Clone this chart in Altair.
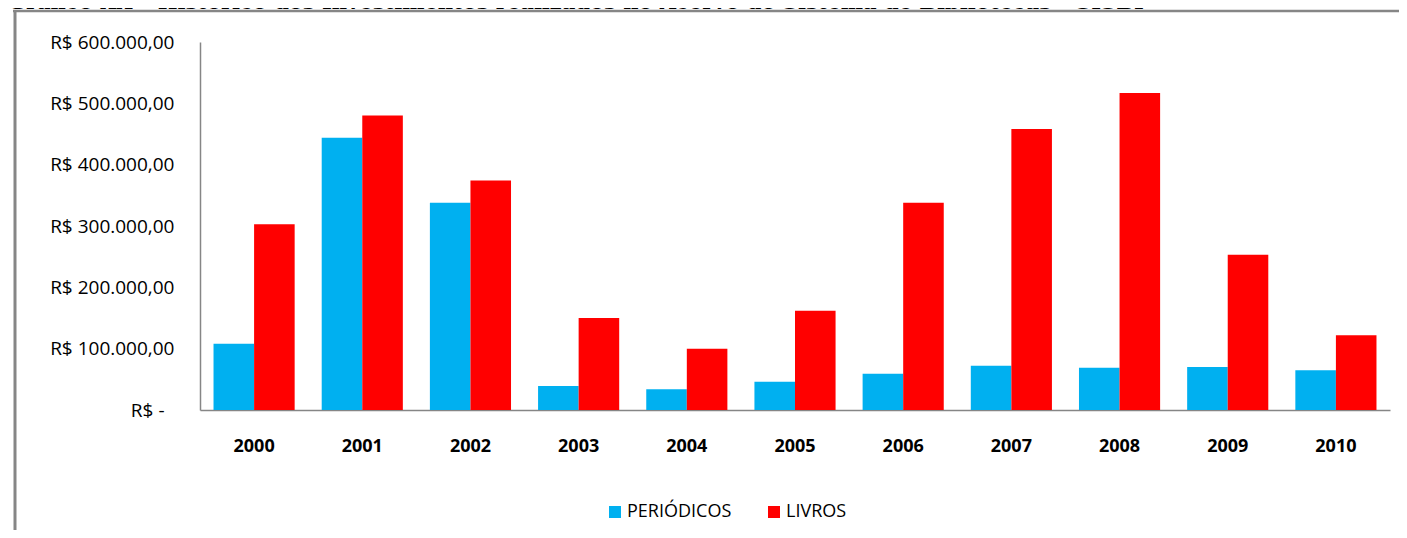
import altair as alt
import pandas as pd

anos = ["2000", "2001", "2002", "2003", "2004", "2005", "2006", "2007", "2008", "2009", "2010"]
periodicos = [108000, 444000, 338000, 39000, 34000, 46000, 59000, 72000, 69000, 70000, 65000]
livros = [303000, 480000, 374000, 150000, 100000, 162000, 338000, 458000, 517000, 253000, 122000]
series = ["PERIÓDICOS", "LIVROS"]
cores = ["#00B0F0", "#FF0000"]
y_ticks = [0, 100000, 200000, 300000, 400000, 500000, 600000]
titulo = "Gráfico XX – Histórico dos Investimentos realizados no Acervo do Sistema de Bibliotecas – SISBI"

rows = []
for i, a in enumerate(anos):
    rows.append({"ano": a, "serie": series[0], "valor": periodicos[i]})
    rows.append({"ano": a, "serie": series[1], "valor": livros[i]})
df = pd.DataFrame(rows)

FONT = "Open Sans"
GRAY = "#868686"

bars = alt.Chart(df).mark_bar().encode(
    x=alt.X("ano:N", sort=anos,
            scale=alt.Scale(paddingInner=0.25, paddingOuter=0.125),
            axis=alt.Axis(title=None, labelAngle=0, ticks=False, domainColor=GRAY,
                          domainWidth=1.5, labelFont=FONT, labelFontSize=18,
                          labelFontWeight="bold", labelColor="black", labelPadding=27)),
    xOffset=alt.XOffset("serie:N", sort=series,
                        scale=alt.Scale(paddingInner=0, paddingOuter=0)),
    y=alt.Y("valor:Q", scale=alt.Scale(domain=[0, 600000]),
            axis=alt.Axis(title=None, values=y_ticks, ticks=False, grid=False,
                          domainColor=GRAY, domainWidth=1.5, labelFont=FONT,
                          labelFontSize=19, labelColor="black",
                          labelPadding={"condition": {"test": "datum.value == 0", "value": 36}, "value": 26},
                          labelExpr="datum.value == 0 ? 'R$ -' : 'R$ ' + format(datum.value/1000, 'd') + '.000,00'")),
    color=alt.Color("serie:N", sort=series,
                    scale=alt.Scale(domain=series, range=cores),
                    legend=alt.Legend(title=None, orient="none", legendX=406, legendY=461,
                                      direction="horizontal", symbolType="square",
                                      symbolSize=144, symbolStrokeWidth=0,
                                      labelFont=FONT, labelFontSize=18, labelColor="black",
                                      labelOffset=3, columnPadding=33, padding=0)),
)

one = pd.DataFrame({"k": [0]})
frame_left = alt.Chart(one).mark_rule(color=GRAY, strokeWidth=3).encode(
    x=alt.value(-185), y=alt.value(-32), y2=alt.value(500))
frame_top = alt.Chart(one).mark_rule(color=GRAY, strokeWidth=2.5).encode(
    x=alt.value(-187), x2=alt.value(1200), y=alt.value(-31))
title_txt = alt.Chart(one).mark_text(
    text=titulo, font="DejaVu Serif", fontSize=21, fontWeight="bold",
    align="left", baseline="alphabetic", color="black").encode(
    x=alt.value(-192), y=alt.value(-33))

chart = alt.layer(bars, frame_left, frame_top, title_txt).properties(
    width=1190, height=368,
    background="white",
    autosize=alt.AutoSizeParams(type="none"),
    padding={"left": 192, "top": 34, "right": 9, "bottom": 120},
).configure_view(strokeWidth=0, stroke="transparent")

chart.save("out.html", embed_options={"renderer": "svg", "actions": False})
